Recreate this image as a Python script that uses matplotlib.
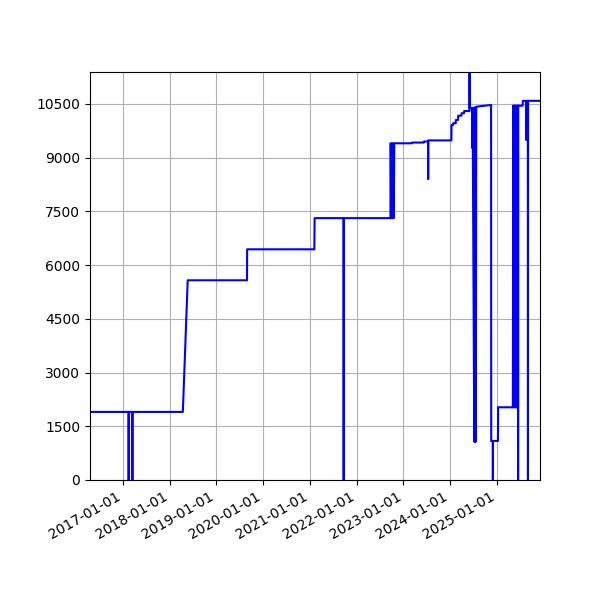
import numpy as np
import pandas as pd
import matplotlib
matplotlib.use('Agg')
import matplotlib.pyplot as plt
import matplotlib.dates as mdates
from matplotlib.ticker import MultipleLocator

# (date, value) points
dates = [
    '2016-04-20', '2017-02-15', '2017-02-16', '2017-02-17', '2017-03-16', '2017-03-17', '2017-03-18',
    '2018-04-15', '2018-05-23', '2019-08-29', '2019-08-30', '2021-02-05', '2021-02-07',
    '2021-09-21', '2021-09-22', '2021-09-23',
    '2022-09-22', '2022-09-24', '2022-09-28', '2022-10-03', '2022-10-08', '2022-10-13', '2022-10-18', '2022-10-22',
    '2023-03-10', '2023-03-11', '2023-06-10', '2023-06-11', '2023-07-13', '2023-07-14', '2023-07-15',
    '2024-01-11', '2024-01-12', '2024-01-24', '2024-01-25', '2024-02-14', '2024-02-15', '2024-03-03', '2024-03-04',
    '2024-03-30', '2024-03-31', '2024-04-19', '2024-04-20', '2024-05-31', '2024-06-01', '2024-06-02',
    '2024-06-21', '2024-06-22', '2024-06-25', '2024-07-08', '2024-07-11', '2024-07-14', '2024-07-17',
    '2024-07-20', '2024-07-23', '2024-11-16', '2024-11-17', '2024-11-29', '2024-11-30', '2024-12-01',
    '2025-01-09', '2025-01-10', '2025-05-05', '2025-05-08', '2025-05-11', '2025-05-14', '2025-05-17',
    '2025-05-20', '2025-05-23', '2025-05-26', '2025-05-29', '2025-06-01', '2025-06-04', '2025-06-07',
    '2025-06-10', '2025-06-14', '2025-06-15', '2025-06-16', '2025-06-20', '2025-07-21', '2025-07-22',
    '2025-08-16', '2025-08-17', '2025-08-18', '2025-08-30', '2025-08-31', '2025-09-01', '2025-12-03',
]
values = [
    1900, 1900, 0, 1900, 1900, 0, 1900,
    1900, 5575, 5575, 6440, 6440, 7310,
    7310, 0, 7310,
    7310, 9400, 7310, 9400, 7310, 9400, 7310, 9400,
    9400, 9420, 9420, 9450, 9450, 8400, 9480,
    9480, 9910, 9910, 9960, 9960, 10050, 10050, 10170,
    10170, 10240, 10240, 10300, 10300, 13000, 10380,
    10380, 9270, 10390, 1070, 10400, 1070, 10400,
    1070, 10420, 10470, 1090, 1090, 0, 1090,
    1090, 2030, 2030, 10450, 2030, 10450, 2030,
    10450, 2030, 10450, 2030, 10450, 2030, 10450,
    2030, 10450, 0, 10450, 10450, 10450, 10585,
    10585, 9495, 10585, 10585, 0, 10585, 10585,
]

x = pd.to_datetime(dates)
y = np.array(values)

fig, ax = plt.subplots(figsize=(6, 6), dpi=100)
ax.plot(x, y, color='blue', linewidth=1.5)

ax.set_xlim(x[0], x[-1])
ax.set_ylim(0, 11390)
ax.yaxis.set_major_locator(MultipleLocator(1500))
ax.xaxis.set_major_locator(mdates.YearLocator())
ax.xaxis.set_major_formatter(mdates.DateFormatter('%Y-%m-%d'))
ax.grid(True)

fig.autofmt_xdate()
fig.subplots_adjust(left=0.15, right=0.9, top=0.88, bottom=0.2)
fig.savefig('out.png', dpi=100)
